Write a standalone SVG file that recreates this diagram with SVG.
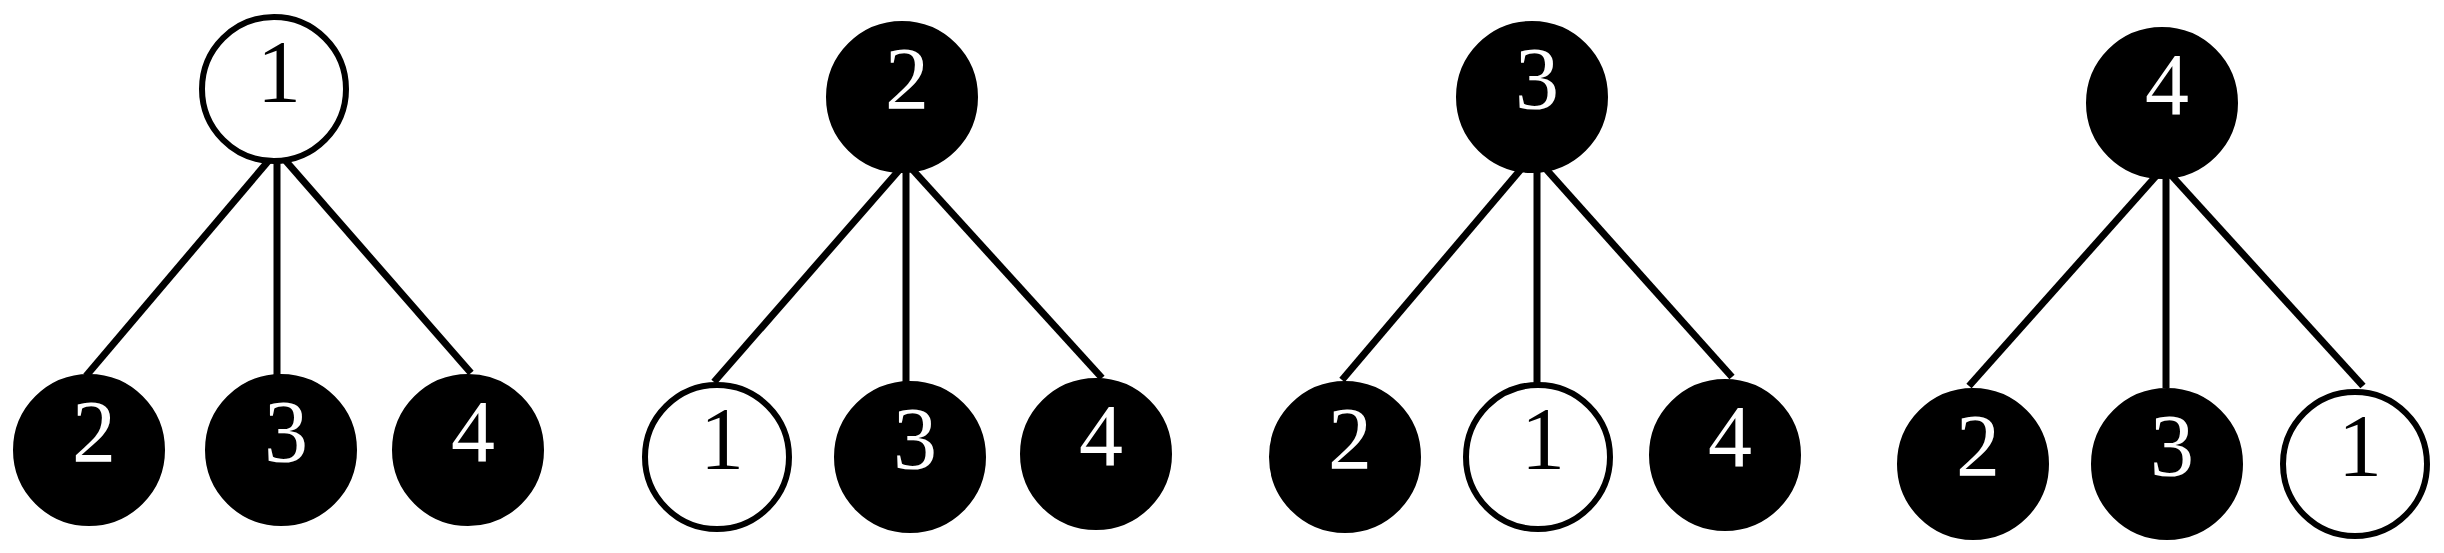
<svg xmlns="http://www.w3.org/2000/svg" width="2444" height="553" viewBox="0 0 2444 553">
<style>
.edge{stroke:#000;stroke-width:7;fill:none}
.hollow{fill:#fff;stroke:#000;stroke-width:6}
.solid{fill:#000;stroke:#000;stroke-width:2}
.lb{font-family:"Liberation Serif","Times New Roman",serif;font-size:88px;text-anchor:middle}
.lw{fill:#fff}
.lk{fill:#000}
</style>
<rect width="2444" height="553" fill="#fff"/>
<g id="connectors">
<line class="edge" x1="276" y1="152" x2="86" y2="376"/>
<line class="edge" x1="277" y1="152" x2="277" y2="376"/>
<line class="edge" x1="278" y1="152" x2="471" y2="373"/>
<line class="edge" x1="901" y1="168" x2="714" y2="382"/>
<line class="edge" x1="906" y1="168" x2="906" y2="382"/>
<line class="edge" x1="911" y1="168" x2="1102" y2="378"/>
<line class="edge" x1="1522" y1="168" x2="1342" y2="380"/>
<line class="edge" x1="1537" y1="168" x2="1537" y2="392"/>
<line class="edge" x1="1545" y1="168" x2="1732" y2="377"/>
<line class="edge" x1="2157" y1="175" x2="1969" y2="386"/>
<line class="edge" x1="2166" y1="175" x2="2166" y2="388"/>
<line class="edge" x1="2171" y1="175" x2="2363" y2="386"/>
</g>
<g id="p1-n1"><circle class="hollow" cx="274" cy="89" r="72"/><text class="lb lk" x="279" y="101">1</text></g>
<g id="p1-n2"><circle class="solid" cx="89" cy="450" r="75"/><text class="lb lw" x="94" y="461">2</text></g>
<g id="p1-n3"><circle class="solid" cx="281" cy="450" r="75"/><text class="lb lw" x="286" y="461">3</text></g>
<g id="p1-n4"><circle class="solid" cx="468" cy="450" r="75"/><text class="lb lw" x="473" y="461">4</text></g>
<g id="p2-n2"><circle class="solid" cx="902" cy="97" r="75"/><text class="lb lw" x="907" y="108">2</text></g>
<g id="p2-n1"><circle class="hollow" cx="717" cy="457" r="72"/><text class="lb lk" x="722" y="468">1</text></g>
<g id="p2-n3"><circle class="solid" cx="910" cy="457" r="75"/><text class="lb lw" x="915" y="468">3</text></g>
<g id="p2-n4"><circle class="solid" cx="1096" cy="454" r="75"/><text class="lb lw" x="1101" y="465">4</text></g>
<g id="p3-n3"><circle class="solid" cx="1532" cy="97" r="75"/><text class="lb lw" x="1537" y="108">3</text></g>
<g id="p3-n2"><circle class="solid" cx="1345" cy="457" r="75"/><text class="lb lw" x="1350" y="468">2</text></g>
<g id="p3-n1"><circle class="hollow" cx="1538" cy="457" r="72"/><text class="lb lk" x="1543" y="468">1</text></g>
<g id="p3-n4"><circle class="solid" cx="1725" cy="455" r="75"/><text class="lb lw" x="1730" y="466">4</text></g>
<g id="p4-n4"><circle class="solid" cx="2162" cy="103" r="75"/><text class="lb lw" x="2167" y="114">4</text></g>
<g id="p4-n2"><circle class="solid" cx="1973" cy="464" r="75"/><text class="lb lw" x="1978" y="475">2</text></g>
<g id="p4-n3"><circle class="solid" cx="2167" cy="464" r="75"/><text class="lb lw" x="2172" y="475">3</text></g>
<g id="p4-n1"><circle class="hollow" cx="2355" cy="464" r="72"/><text class="lb lk" x="2360" y="475">1</text></g>
</svg>
